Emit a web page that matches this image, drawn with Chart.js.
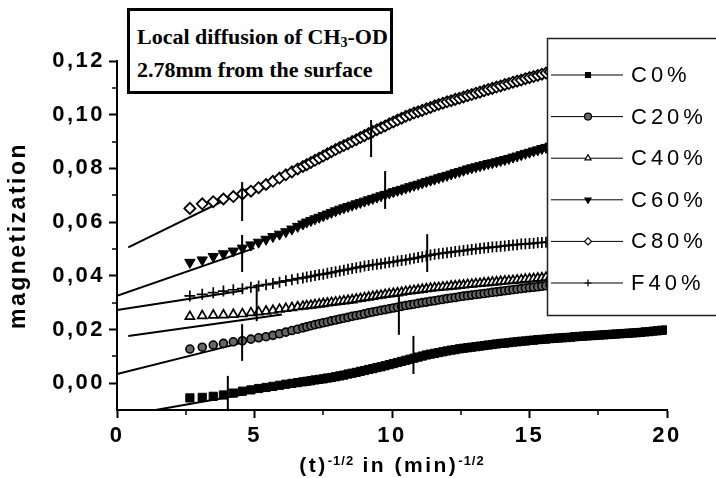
<!DOCTYPE html>
<html>
<head>
<meta charset="utf-8">
<script src="https://cdn.jsdelivr.net/npm/chart.js@4.4.1/dist/chart.umd.min.js"></script>
<style>
html,body{margin:0;padding:0;background:#fff;}
#wrap{position:relative;width:716px;height:478px;overflow:hidden;background:#fff;}
#c{position:absolute;left:0;top:0;}
#titlebox{position:absolute;left:127px;top:8px;width:260px;height:80px;border:3px solid #000;background:#fff;
  font-family:"Liberation Serif","Times New Roman",serif;font-weight:bold;font-size:22px;color:#000;}
#titlebox div{position:absolute;left:7px;line-height:22px;white-space:nowrap;}
#titlebox sub{font-size:14px;vertical-align:-3px;line-height:0;}
#xtitle{position:absolute;left:117px;width:550px;top:453px;text-align:center;line-height:24px;
  font-family:"Liberation Sans",Arial,sans-serif;font-weight:bold;font-size:21px;letter-spacing:2.5px;color:#000;white-space:nowrap;}
#xtitle sup{font-size:13px;vertical-align:7px;line-height:0;letter-spacing:1px;}
</style>
</head>
<body>
<div id="wrap">
  <canvas id="c" width="716" height="478"></canvas>
  <div id="titlebox">
    <div style="top:15px">Local diffusion of CH<sub>3</sub>-OD</div>
    <div style="top:48px">2.78mm from the surface</div>
  </div>
  <div id="xtitle">(t)<sup>-1/2</sup> in (min)<sup>-1/2</sup></div>
</div>
<script>
// ---- data ----
const X = [2.65,3.1,3.5,3.87,4.23,4.56,4.87,5.15,5.42,5.67,5.91,6.14,6.36,6.57,6.76,
  6.9,7.05,7.2,7.35,7.5,7.65,7.8,7.95,8.1,8.25,
  8.4,8.55,8.7,8.85,9.0,9.15,9.3,9.45,9.6,9.75,
  9.9,10.05,10.2,10.35,10.5,10.65,10.8,10.95,11.1,11.25,
  11.4,11.55,11.7,11.85,12.0,12.15,12.3,12.45,12.6,12.75,
  12.9,13.05,13.2,13.35,13.5,13.65,13.8,13.95,14.1,14.25,
  14.4,14.55,14.7,14.85,15.0,15.15,15.3,15.45,15.6,15.75,
  15.9,
  16.05,16.2,16.35,16.5,16.65,16.8,16.95,17.1,17.25,17.4,
  17.55,17.7,17.85,18.0,18.15,18.3,18.45,18.6,18.75,18.9,
  19.05,19.2,19.35,19.5,19.65,19.8,19.95];

const C0 = [-0.0055,-0.0053,-0.0049,-0.0044,-0.0037,-0.0030,-0.0025,-0.0020,-0.0016,-0.0012,-0.0008,-0.0004,-0.0001,0.0002,0.0005,
  0.0007,0.0009,0.0012,0.0014,0.0016,0.0019,0.0021,0.0024,0.0027,0.0030,
  0.0034,0.0037,0.0040,0.0044,0.0047,0.0051,0.0054,0.0058,0.0061,0.0065,
  0.0069,0.0073,0.0077,0.0081,0.0085,0.0089,0.0093,0.0097,0.0101,0.0105,
  0.0108,0.0111,0.0114,0.0117,0.0120,0.0123,0.0125,0.0128,0.0130,0.0132,
  0.0134,0.0136,0.0138,0.0140,0.0142,0.0144,0.0146,0.0148,0.0149,0.0151,
  0.0153,0.0154,0.0156,0.0157,0.0159,0.0160,0.0162,0.0163,0.0164,0.0166,
  0.0167,
  0.0168,0.0169,0.0170,0.0171,0.0173,0.0174,0.0175,0.0176,0.0177,0.0178,
  0.0179,0.0180,0.0181,0.0182,0.0183,0.0184,0.0185,0.0186,0.0187,0.0188,
  0.0189,0.0191,0.0192,0.0194,0.0195,0.0197,0.0198];
const C20 = [0.0127,0.0134,0.0142,0.0148,0.0154,0.0158,0.0164,0.0169,0.0173,0.0178,0.0184,0.0190,0.0196,0.0201,0.0206,
  0.0210,0.0214,0.0218,0.0221,0.0225,0.0228,0.0232,0.0235,0.0239,0.0242,
  0.0245,0.0249,0.0252,0.0255,0.0258,0.0262,0.0265,0.0268,0.0271,0.0274,
  0.0277,0.0280,0.0283,0.0286,0.0289,0.0292,0.0294,0.0297,0.0300,0.0302,
  0.0305,0.0307,0.0310,0.0312,0.0315,0.0317,0.0319,0.0322,0.0324,0.0326,
  0.0328,0.0330,0.0332,0.0334,0.0336,0.0338,0.0340,0.0342,0.0344,0.0346,
  0.0348,0.0350,0.0352,0.0354,0.0356,0.0357,0.0359,0.0361,0.0363,0.0365,
  0.0367];
const C40 = [0.0248,0.0251,0.0253,0.0254,0.0256,0.0258,0.0262,0.0265,0.0268,0.0271,0.0275,0.0278,0.0281,0.0284,0.0286,
  0.0288,0.0290,0.0292,0.0294,0.0296,0.0298,0.0300,0.0302,0.0304,0.0306,
  0.0308,0.0310,0.0313,0.0315,0.0318,0.0320,0.0323,0.0325,0.0327,0.0330,
  0.0332,0.0334,0.0336,0.0338,0.0341,0.0343,0.0345,0.0347,0.0349,0.0351,
  0.0353,0.0355,0.0356,0.0358,0.0359,0.0361,0.0362,0.0364,0.0365,0.0367,
  0.0368,0.0370,0.0371,0.0373,0.0374,0.0376,0.0377,0.0379,0.0380,0.0381,
  0.0382,0.0384,0.0385,0.0387,0.0388,0.0389,0.0391,0.0392,0.0394,0.0395,
  0.0396];
const C60 = [0.0450,0.0459,0.0472,0.0482,0.0492,0.0503,0.0515,0.0525,0.0536,0.0546,0.0555,0.0564,0.0574,0.0584,0.0593,
  0.0600,0.0606,0.0612,0.0618,0.0624,0.0630,0.0636,0.0642,0.0648,0.0653,
  0.0658,0.0663,0.0668,0.0673,0.0678,0.0683,0.0688,0.0693,0.0698,0.0703,
  0.0708,0.0713,0.0718,0.0722,0.0727,0.0732,0.0737,0.0741,0.0746,0.0751,
  0.0756,0.0760,0.0765,0.0770,0.0774,0.0779,0.0784,0.0788,0.0793,0.0798,
  0.0802,0.0806,0.0810,0.0814,0.0818,0.0821,0.0825,0.0829,0.0833,0.0837,
  0.0842,0.0846,0.0851,0.0856,0.0860,0.0865,0.0869,0.0874,0.0878,0.0883,
  0.0887];
const C80 = [0.0651,0.0668,0.0676,0.0686,0.0695,0.0705,0.0715,0.0728,0.0740,0.0752,0.0764,0.0776,0.0787,0.0798,0.0807,
  0.0814,0.0822,0.0830,0.0838,0.0846,0.0854,0.0862,0.0870,0.0878,0.0885,
  0.0892,0.0900,0.0907,0.0915,0.0922,0.0930,0.0937,0.0944,0.0951,0.0958,
  0.0966,0.0973,0.0980,0.0987,0.0994,0.1000,0.1006,0.1011,0.1016,0.1022,
  0.1027,0.1033,0.1038,0.1043,0.1048,0.1052,0.1057,0.1061,0.1066,0.1071,
  0.1075,0.1080,0.1084,0.1089,0.1094,0.1098,0.1103,0.1107,0.1112,0.1116,
  0.1121,0.1125,0.1129,0.1134,0.1138,0.1142,0.1146,0.1151,0.1155,0.1159,
  0.1163];
const F40 = [0.0325,0.0331,0.0337,0.0343,0.0348,0.0352,0.0357,0.0362,0.0367,0.0371,0.0376,0.0381,0.0385,0.0389,0.0392,
  0.0395,0.0398,0.0401,0.0404,0.0406,0.0409,0.0412,0.0415,0.0418,0.0421,
  0.0424,0.0427,0.0430,0.0433,0.0436,0.0438,0.0441,0.0443,0.0445,0.0448,
  0.0450,0.0452,0.0455,0.0457,0.0459,0.0462,0.0465,0.0468,0.0471,0.0474,
  0.0477,0.0480,0.0482,0.0484,0.0486,0.0488,0.0490,0.0492,0.0494,0.0496,
  0.0498,0.0500,0.0502,0.0503,0.0505,0.0507,0.0508,0.0510,0.0511,0.0513,
  0.0515,0.0516,0.0518,0.0519,0.0520,0.0521,0.0523,0.0524,0.0525,0.0526,
  0.0527];

const SERIES_NAMES = ['C0%','C20%','C40%','C60%','C80%','F40%'];
const SERIES_VALUES = [C0, C20, C40, C60, C80, F40];

// straight-line fits (start / end) for each series, same order as names
const FIT_X = [[1.4,4.6],[0,4.6],[0.41,6.0],[0,5.0],[0.41,4.8],[0,4.6]];
const FIT_Y = [[-0.0100,-0.0042],[0.0034,0.0152],[0.0176,0.0256],[0.0325,0.0503],[0.0506,0.0726],[0.0272,0.0345]];

// short vertical marker bars
const MARK_X    = [4.55, 9.24, 4.55, 9.75, 5.08, 11.28, 4.55, 10.25, 4.03, 10.78];
const MARK_LOW  = [0.0604,0.0842,0.0414,0.0649,0.0231,0.0414,0.0083,0.0180,-0.0100,0.0034];
const MARK_HIGH = [0.0749,0.0980,0.0552,0.0790,0.0369,0.0555,0.0220,0.0330,0.0027,0.0176];

const X_TICKS = [0,5,10,15,20];
const X_MINOR = [2.5,7.5,12.5,17.5];
const Y_TICKS = [0,0.02,0.04,0.06,0.08,0.10,0.12];
const Y_MINOR = [0.01,0.03,0.05,0.07,0.09,0.11];

// ---- styles ----
const STYLES = [
  {pointStyle:'rect', radius:5.8, bg:'#000', border:'#000', bw:1, rot:0},
  {pointStyle:'circle', radius:4, bg:'#666', border:'#000', bw:1.6, rot:0},
  {pointStyle:'triangle', radius:5.2, bg:'#fff', border:'#000', bw:1.7, rot:0},
  {pointStyle:'triangle', radius:6, bg:'#000', border:'#000', bw:1, rot:180},
  {pointStyle:'rectRot', radius:5.5, bg:'#fff', border:'#000', bw:1.8, rot:0},
  {pointStyle:'cross', radius:5.5, bg:'#000', border:'#000', bw:1.7, rot:0}
];

const datasets = [];
for (let i = 0; i < MARK_X.length; i++) {
  datasets.push({label:'mark'+i, data:[{x:MARK_X[i],y:MARK_LOW[i]},{x:MARK_X[i],y:MARK_HIGH[i]}],
    showLine:true, borderColor:'#000', borderWidth:2, pointRadius:0, order:0});
}
SERIES_VALUES.forEach((vals, i) => {
  const s = STYLES[i];
  datasets.push({label:SERIES_NAMES[i], data: vals.map((v, j) => ({x:X[j], y:v})),
    showLine:false, pointStyle:s.pointStyle, pointRadius:s.radius, pointRotation:s.rot,
    pointBackgroundColor:s.bg, pointBorderColor:s.border, pointBorderWidth:s.bw, order:1});
});
SERIES_VALUES.forEach((vals, i) => {
  datasets.push({label:'fit'+i, data:[{x:FIT_X[i][0],y:FIT_Y[i][0]},{x:FIT_X[i][1],y:FIT_Y[i][1]}],
    showLine:true, borderColor:'#000', borderWidth:2, pointRadius:0, order:2});
});

const SANS = '"Liberation Sans", Arial, Helvetica, sans-serif';
const SPACING = '2.5px';

const spacingPlugin = {
  id:'spacing',
  beforeUpdate(chart){ chart.ctx.letterSpacing = SPACING; },
  beforeLayout(chart){ chart.ctx.letterSpacing = SPACING; },
  beforeDraw(chart){ chart.ctx.letterSpacing = SPACING; }
};

const minorPlugin = {
  id:'minorTicks',
  afterDraw(chart){
    const ctx = chart.ctx, xs = chart.scales.x, ys = chart.scales.y;
    ctx.save();
    ctx.strokeStyle = '#000'; ctx.lineWidth = 1.5;
    ctx.beginPath();
    X_MINOR.forEach(v => { const p = Math.round(xs.getPixelForValue(v)); ctx.moveTo(p, ys.bottom); ctx.lineTo(p, ys.bottom + 5); });
    Y_MINOR.forEach(v => { const p = Math.round(ys.getPixelForValue(v)); ctx.moveTo(xs.left, p); ctx.lineTo(xs.left - 5, p); });
    ctx.stroke();
    ctx.restore();
  }
};

const legendPlugin = {
  id:'boxLegend',
  afterDraw(chart){
    const ctx = chart.ctx;
    ctx.save();
    const L = 547, T = 38, B = 315;
    ctx.fillStyle = '#fff';
    ctx.fillRect(L, T, 200, B - T);
    ctx.strokeStyle = '#222'; ctx.lineWidth = 1.5;
    ctx.beginPath();
    ctx.moveTo(740, T + 0.5); ctx.lineTo(L + 0.5, T + 0.5); ctx.lineTo(L + 0.5, B + 0.5); ctx.lineTo(740, B + 0.5);
    ctx.stroke();
    SERIES_NAMES.forEach((name, i) => {
      const y = 75 + i * 41.6;
      const s = STYLES[i];
      ctx.strokeStyle = '#000'; ctx.lineWidth = 1;
      ctx.beginPath(); ctx.moveTo(551, y); ctx.lineTo(623, y); ctx.stroke();
      ctx.fillStyle = s.bg; ctx.strokeStyle = s.border; ctx.lineWidth = 1.2;
      Chart.helpers.drawPoint(ctx, {pointStyle:s.pointStyle, radius:3.5, rotation:s.rot, borderWidth:1.2}, 588, y);
      ctx.letterSpacing = '4px';
      ctx.fillStyle = '#000';
      ctx.font = '22px ' + SANS;
      ctx.textBaseline = 'middle'; ctx.textAlign = 'left';
      ctx.fillText(name, 631, y + 1);
    });
    ctx.restore();
  }
};

new Chart(document.getElementById('c'), {
  type:'scatter',
  data:{datasets},
  plugins:[spacingPlugin, minorPlugin, legendPlugin],
  options:{
    responsive:false, animation:false, events:[],
    layout:{padding:{top:61, right:49, bottom:0, left:0}},
    plugins:{legend:{display:false}, tooltip:{enabled:false}, title:{display:false}},
    scales:{
      x:{type:'linear', min:0, max:20,
        afterBuildTicks: s => { s.ticks = X_TICKS.map(v => ({value:v})); },
        afterFit: s => { s.height = 68; },
        ticks:{color:'#000', font:{family:SANS, size:22, weight:'bold'}, padding:5, maxRotation:0, autoSkip:false,
          callback: v => String(v)},
        grid:{drawOnChartArea:false, drawTicks:true, tickLength:8, tickWidth:2, tickColor:'#000'},
        border:{display:true, color:'#000', width:2}
      },
      y:{type:'linear', min:-0.01, max:0.12,
        afterBuildTicks: s => { s.ticks = Y_TICKS.map(v => ({value:v})); },
        afterFit: s => { s.width = 117; },
        ticks:{color:'#000', font:{family:SANS, size:22, weight:'bold'}, padding:4, autoSkip:false,
          callback: v => Number(v).toFixed(2).replace('.', ',')},
        grid:{drawOnChartArea:false, drawTicks:true, tickLength:8, tickWidth:2, tickColor:'#000'},
        border:{display:true, color:'#000', width:2},
        title:{display:true, text:'magnetization', color:'#000', font:{family:SANS, size:23, weight:'bold'}, padding:{top:5, bottom:0}}
      }
    }
  }
});
</script>
</body>
</html>
